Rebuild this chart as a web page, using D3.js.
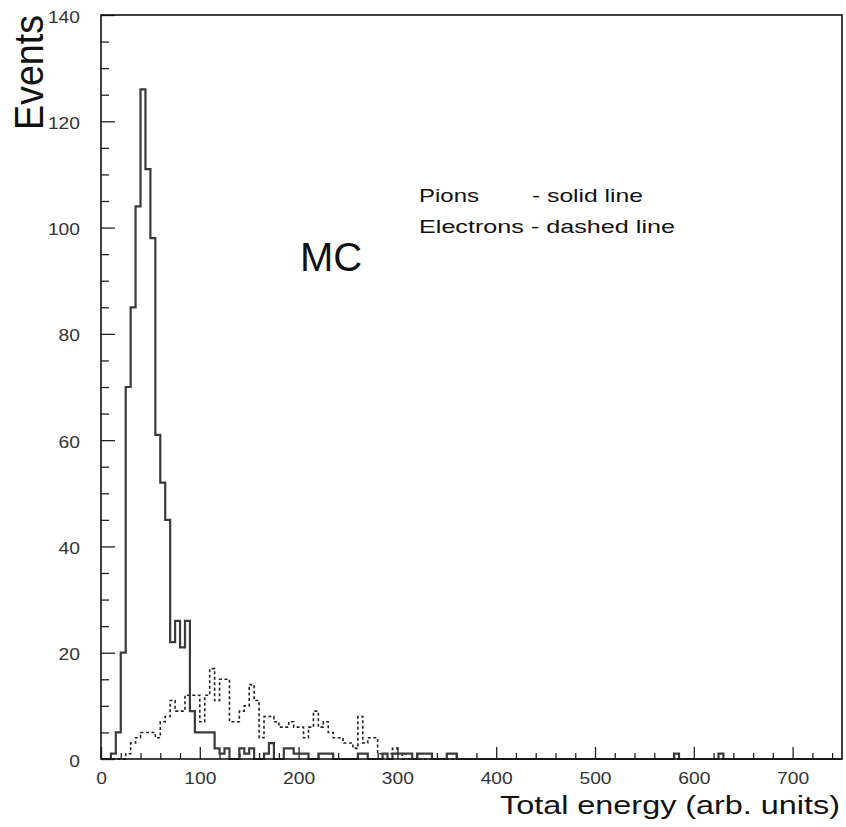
<!DOCTYPE html>
<html>
<head>
<meta charset="utf-8">
<script src="https://cdn.jsdelivr.net/npm/d3@7"></script>
<style>
  html, body { margin: 0; padding: 0; background: #fff; }
  svg { display: block; font-family: "Liberation Sans", Arial, Helvetica, sans-serif; }
</style>
</head>
<body>
<div id="chart"></div>
<script>
// Histogram contents, bins of 5 energy units from 0 to 750
const binWidth = 5;
const pions = [
  0, 0, 1, 5, 20, 70, 85, 104, 126, 111,
  98, 61, 52, 45, 22, 26, 21, 26, 9, 5,
  5, 5, 5, 2, 1, 2, 0, 0, 2, 1,
  2, 0, 0, 1, 3, 0, 0, 2, 2, 1,
  1, 1, 0, 0, 1, 1, 1, 0, 0, 0,
  0, 0, 1, 1, 0, 0, 0, 1, 0, 1,
  1, 1, 1, 0, 1, 1, 1, 0, 0, 0,
  1, 1, 0, 0, 0, 0, 0, 0, 0, 0,
  0, 0, 0, 0, 0, 0, 0, 0, 0, 0,
  0, 0, 0, 0, 0, 0, 0, 0, 0, 0,
  0, 0, 0, 0, 0, 0, 0, 0, 0, 0,
  0, 0, 0, 0, 0, 0, 1, 0, 0, 0,
  0, 0, 0, 0, 0, 1, 0, 0, 0, 0,
  0, 0, 0, 0, 0, 0, 0, 0, 0, 0,
  0, 0, 0, 0, 0, 0, 0, 0, 0, 0
];
const electrons = [
  0, 0, 0, 0, 0, 1, 3, 4, 5, 5,
  5, 4, 7, 8, 11, 9, 9, 12, 12, 12,
  7, 12, 17, 11, 15, 15, 7, 7, 9, 10,
  14, 11, 4, 8, 8, 7, 6, 6, 7, 6,
  6, 4, 6, 9, 6, 7, 5, 4, 4, 3,
  3, 2, 8, 3, 4, 4, 1, 1, 1, 2,
  1, 0, 0, 0, 0, 0, 0, 0, 0, 0,
  0, 0, 0, 0, 0, 0, 0, 0, 0, 0,
  0, 0, 0, 0, 0, 0, 0, 0, 0, 0,
  0, 0, 0, 0, 0, 0, 0, 0, 0, 0,
  0, 0, 0, 0, 0, 0, 0, 0, 0, 0,
  0, 0, 0, 0, 0, 0, 0, 0, 0, 0,
  0, 0, 0, 0, 0, 0, 0, 0, 0, 0,
  0, 0, 0, 0, 0, 0, 0, 0, 0, 0,
  0, 0, 0, 0, 0, 0, 0, 0, 0, 0
];
const xMajorTicks = [0, 100, 200, 300, 400, 500, 600, 700];
const yMajorTicks = [0, 20, 40, 60, 80, 100, 120, 140];

const width = 846;
const height = 827;
const margin = {top: 15, right: 4, bottom: 68, left: 101};
const innerWidth = width - margin.left - margin.right;
const innerHeight = height - margin.top - margin.bottom;

const svg = d3.select("#chart")
  .append("svg")
    .attr("width", width)
    .attr("height", height);

const inner = svg.append("g")
  .attr("transform", `translate(${margin.left}, ${margin.top})`);

// Scales
const xScale = d3.scaleLinear().domain([0, 750]).range([0, innerWidth]);
const yScale = d3.scaleLinear().domain([0, 140]).range([innerHeight, 0]);

// Minor ticks (no labels)
const xMinor = d3.range(0, 751, 20).filter(v => v % 100 !== 0);
const yMinor = d3.range(0, 141, 5).filter(v => v % 20 !== 0);

inner.append("g")
  .attr("transform", `translate(0, ${innerHeight})`)
  .call(d3.axisBottom(xScale).tickValues(xMinor).tickSize(-6).tickFormat(""))
  .call(g => g.select(".domain").remove())
  .call(g => g.selectAll("text").remove());
inner.append("g")
  .call(d3.axisLeft(yScale).tickValues(yMinor).tickSize(-8).tickFormat(""))
  .call(g => g.select(".domain").remove())
  .call(g => g.selectAll("text").remove());

// Major ticks with labels
const digitWidth = 10.7;
inner.append("g")
  .attr("transform", `translate(0, ${innerHeight})`)
  .call(d3.axisBottom(xScale).tickValues(xMajorTicks).tickSize(-12).tickPadding(13))
  .call(g => g.select(".domain").remove())
  .call(g => g.selectAll("text")
    .attr("font-size", 17)
    .attr("fill", "#333")
    .attr("font-family", "Liberation Sans, Arial, sans-serif")
    .attr("textLength", d => String(d).length * digitWidth)
    .attr("lengthAdjust", "spacingAndGlyphs"));
inner.append("g")
  .call(d3.axisLeft(yScale).tickValues(yMajorTicks).tickSize(-14).tickPadding(21))
  .call(g => g.select(".domain").remove())
  .call(g => g.selectAll("text")
    .attr("font-size", 17)
    .attr("fill", "#333")
    .attr("dy", "0.42em")
    .attr("font-family", "Liberation Sans, Arial, sans-serif")
    .attr("textLength", d => String(d).length * digitWidth)
    .attr("lengthAdjust", "spacingAndGlyphs"));

inner.selectAll(".tick line")
  .attr("stroke", "#222")
  .attr("stroke-width", 1.3);

// Histogram step lines
const toSteps = values => {
  const pts = values.map((v, i) => [i * binWidth, v]);
  pts.push([values.length * binWidth, values[values.length - 1]]);
  return pts;
};
const stepLine = d3.line()
  .x(d => xScale(d[0]))
  .y(d => yScale(d[1]))
  .curve(d3.curveStepAfter);

inner.append("path")
  .datum(toSteps(electrons))
  .attr("d", stepLine)
  .attr("fill", "none")
  .attr("stroke", "#222")
  .attr("stroke-width", 1.6)
  .attr("stroke-dasharray", "3,2.5");

inner.append("path")
  .datum(toSteps(pions))
  .attr("d", stepLine)
  .attr("fill", "none")
  .attr("stroke", "#3a3a3a")
  .attr("stroke-width", 2.2);

// Frame
inner.append("rect")
  .attr("x", 0)
  .attr("y", 0)
  .attr("width", innerWidth)
  .attr("height", innerHeight)
  .attr("fill", "none")
  .attr("stroke", "#111")
  .attr("stroke-width", 1.6);

// Axis titles
svg.append("text")
  .text("Events")
  .attr("transform", "translate(43, 130) rotate(-90)")
  .attr("font-size", 41)
  .attr("fill", "#111")
  .attr("textLength", 115)
  .attr("lengthAdjust", "spacingAndGlyphs");

svg.append("text")
  .text("Total energy (arb. units)")
  .attr("x", 500)
  .attr("y", 814)
  .attr("font-size", 25)
  .attr("fill", "#111")
  .attr("textLength", 340)
  .attr("lengthAdjust", "spacingAndGlyphs");

// Annotations
svg.append("text")
  .text("MC")
  .attr("x", 300)
  .attr("y", 271)
  .attr("font-size", 40)
  .attr("fill", "#111");

const legend = svg.append("g").attr("font-size", 19).attr("fill", "#111");
legend.append("text").text("Pions").attr("x", 419).attr("y", 202)
  .attr("textLength", 60).attr("lengthAdjust", "spacingAndGlyphs");
legend.append("text").text("- solid line").attr("x", 532).attr("y", 202)
  .attr("textLength", 111).attr("lengthAdjust", "spacingAndGlyphs");
legend.append("text").text("Electrons - dashed line").attr("x", 419).attr("y", 233)
  .attr("textLength", 256).attr("lengthAdjust", "spacingAndGlyphs");
</script>
</body>
</html>
